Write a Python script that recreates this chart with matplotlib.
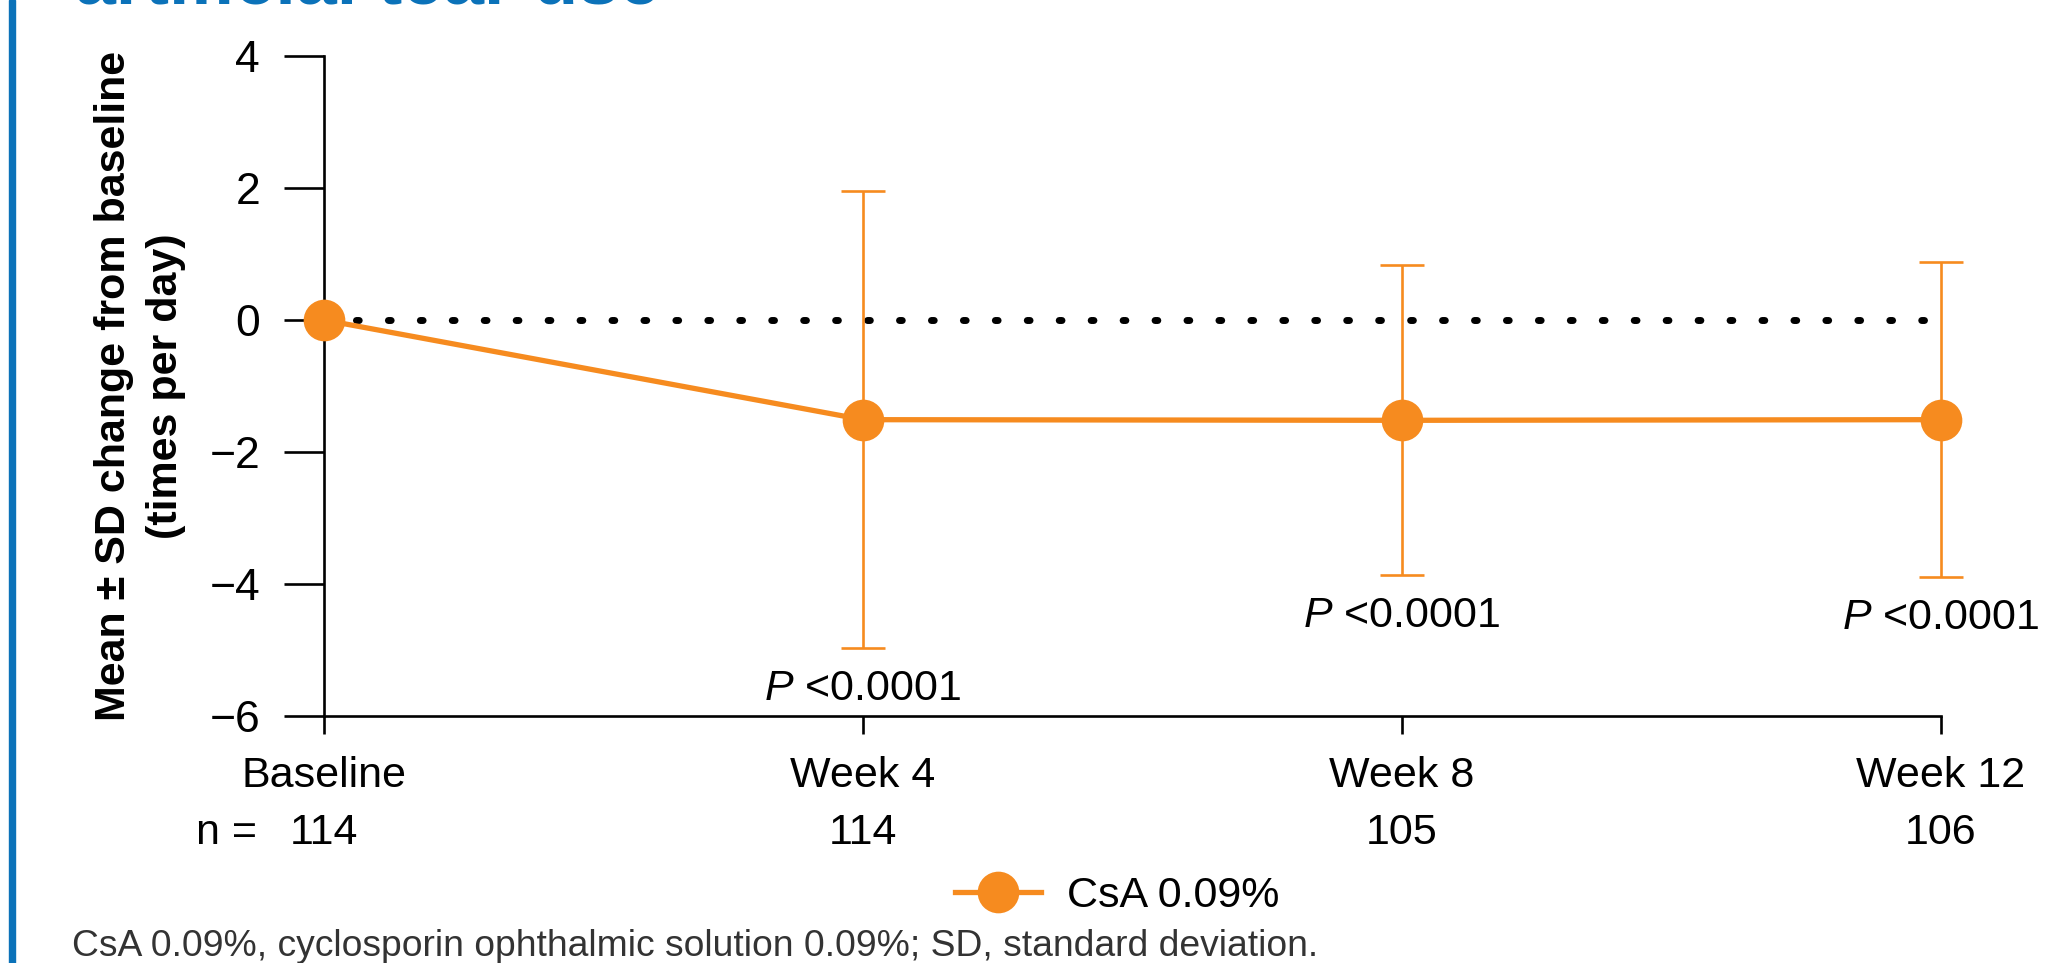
import matplotlib
matplotlib.use("Agg")
import matplotlib.pyplot as plt
from matplotlib.lines import Line2D
from matplotlib.transforms import blended_transform_factory

# ---- data ----
categories = ["Baseline", "Week 4", "Week 8", "Week 12"]
n_values = ["114", "114", "105", "106"]
mean_change = [0.0, -1.51, -1.52, -1.51]
sd_change = [0.0, 3.46, 2.35, 2.39]
p_labels = ["", "<0.0001", "<0.0001", "<0.0001"]
series_label = "CsA 0.09%"
yticks = [-6, -4, -2, 0, 2, 4]

ORANGE = "#F68B1F"
BLUE = "#0B72B9"

plt.rcParams["font.family"] = ["Liberation Sans", "DejaVu Sans"]
plt.rcParams["mathtext.fontset"] = "custom"
plt.rcParams["mathtext.it"] = "Liberation Sans:italic"
plt.rcParams["mathtext.rm"] = "Liberation Sans"

FS = 31

fig = plt.figure(figsize=(20.56, 9.63), dpi=100)
ax = fig.add_axes([324 / 2056, 1 - 716 / 963, (1941 - 324) / 2056, (716 - 56) / 963])

x = list(range(len(categories)))

# reference dotted line at zero
ax.plot([0, 2.97], [0, 0], color="black", lw=5,
        linestyle=(0, (0.4, 4.2)), dash_capstyle="round", zorder=1)

# error bars (skip baseline)
ax.errorbar(x[1:], mean_change[1:], yerr=sd_change[1:], fmt="none",
            ecolor=ORANGE, elinewidth=1.9, capsize=15.5, capthick=1.9,
            zorder=2, clip_on=False)

# main line
ax.plot(x, mean_change, color=ORANGE, lw=3.8, marker="o", markersize=30,
        markeredgewidth=0, zorder=3, clip_on=False)

ax.set_xlim(0, 3)
ax.set_ylim(-6, 4)
ax.set_yticks(yticks)
ax.set_yticklabels([f"{t}".replace("-", "\u2212") for t in yticks])
ax.set_xticks(x)
ax.set_xticklabels(categories)

for s in ["top", "right"]:
    ax.spines[s].set_visible(False)
for s in ["left", "bottom"]:
    ax.spines[s].set_linewidth(1.9)

ax.tick_params(axis="y", direction="out", length=29, width=1.9, pad=17, labelsize=32)
ax.tick_params(axis="x", direction="out", length=13, width=1.9, pad=16, labelsize=FS)

# p-values
for xi, m, sd, p in zip(x, mean_change, sd_change, p_labels):
    if p:
        ax.text(xi, m - sd - 0.62, r"$\mathit{P}$ " + p, ha="center", va="center",
                fontsize=FS, color="black")

# n row
trans = blended_transform_factory(ax.transData, fig.transFigure)
ny = 1 - 833 / 963
for xi, nv in zip(x, n_values):
    ax.text(xi, ny, nv, transform=trans, ha="center", va="center", fontsize=FS)
fig.text(257 / 2056, ny, "n =", ha="right", va="center", fontsize=FS)

# y label
fig.text(140 / 2056, 1 - 386 / 963, "Mean \u00b1 SD change from baseline\n(times per day)",
         rotation=90, ha="center", va="center", fontsize=FS, fontweight="bold",
         multialignment="center", linespacing=1.38)

# legend
handle = Line2D([0], [0], color=ORANGE, lw=3.8, marker="o", markersize=30, markeredgewidth=0)
fig.legend([handle], [series_label], loc="center", bbox_to_anchor=(1117 / 2056, 1 - 896 / 963),
           frameon=False, fontsize=FS, handlelength=2.0, handletextpad=0.6)

# footnote
fig.text(72 / 2056, 1 - 946 / 963,
         "CsA 0.09%, cyclosporin ophthalmic solution 0.09%; SD, standard deviation.",
         ha="left", va="center", fontsize=26.8, color="#333333")

# cut-off title
fig.text(75 / 2056, 1 - 3 / 963, "artificial tear use", ha="left", va="baseline",
         fontsize=53, fontweight="bold", color=BLUE)

# left blue bar
fig.patches.append(plt.Rectangle((9 / 2056, 0), 6 / 2056, 1, transform=fig.transFigure,
                                 color=BLUE, zorder=0))

fig.savefig("out.png", dpi=100)
